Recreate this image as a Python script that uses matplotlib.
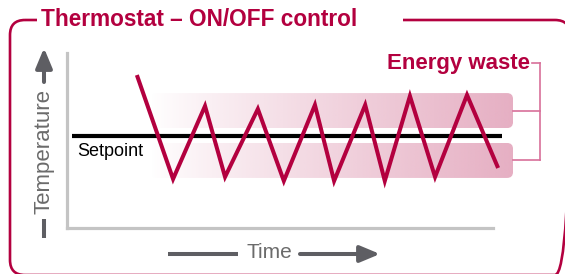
import numpy as np
import matplotlib
matplotlib.use("Agg")
import matplotlib.pyplot as plt
from matplotlib.patches import FancyBboxPatch, Rectangle
from matplotlib.colors import to_rgb

# ---------------- data ----------------
time = [16.4, 24.9, 32.4, 37.1, 44.8, 50.9, 58.2, 62.7, 70.0, 74.6, 80.5, 86.4, 93.9, 101.2]
temperature = [87.4, 28.0, 69.7, 29.2, 68.0, 26.9, 70.3, 26.9, 70.3, 26.9, 75.4, 29.2, 76.0, 34.3]
setpoint = 52.6
setpoint_span = [1.2, 102.1]
waste_bands = [[57.1, 77.1], [28.6, 48.6]]
band_span = [19.5, 104.7]
bracket_x = 111.0

title = "Thermostat – ON/OFF control"
waste_label = "Energy waste"
setpoint_label = "Setpoint"
xlabel = "Time"
ylabel = "Temperature"

CRIMSON = "#b3003f"
PINK = "#e6afc3"
BRACKET = "#d8709a"
GRAY_AX = "#c4c4c4"
GRAY_TXT = "#6b6b6b"
GRAY_ARROW = "#5e5e63"

plt.rcParams['font.family'] = ['Liberation Sans', 'DejaVu Sans']

W, H = 565, 274
fig = plt.figure(figsize=(W / 100, H / 100), dpi=100)

# background / decoration axes in pixel coordinates
bg = fig.add_axes([0, 0, 1, 1])
bg.set_xlim(0, W)
bg.set_ylim(H, 0)
bg.axis('off')

frame = FancyBboxPatch((10, 20), 560, 255, boxstyle="round,pad=0,rounding_size=15",
                       fill=False, ec=CRIMSON, lw=1.9, zorder=1)
bg.add_patch(frame)
bg.add_patch(Rectangle((37, 10), 366, 20, fc='white', ec='none', zorder=2))
bg.text(41, 20, title, color=CRIMSON, fontsize=16.3, fontweight='bold',
        ha='left', va='center', zorder=3)

# x label with arrows
bg.plot([168, 238], [254, 254], color=GRAY_ARROW, lw=2.9, solid_capstyle='butt')
bg.text(269, 253, xlabel, color=GRAY_TXT, fontsize=15, ha='center', va='center')
bg.annotate('', xy=(380, 254), xytext=(300, 254),
            arrowprops=dict(arrowstyle='-|>,head_length=0.6,head_width=0.25',
                            mutation_scale=20, lw=2.9, color=GRAY_ARROW,
                            shrinkA=0, shrinkB=0))
# y label with arrows
bg.plot([44, 44], [219, 238], color=GRAY_ARROW, lw=2.9, solid_capstyle='butt')
bg.text(44, 151, ylabel, color=GRAY_TXT, fontsize=16, ha='center', va='center',
        rotation=90)
bg.annotate('', xy=(44, 48), xytext=(44, 82),
            arrowprops=dict(arrowstyle='-|>,head_length=0.6,head_width=0.25',
                            mutation_scale=20, lw=2.9, color=GRAY_ARROW,
                            shrinkA=0, shrinkB=0))

bg.text(530, 64, waste_label, color=CRIMSON, fontsize=16, fontweight='bold',
        ha='right', va='center')

# ---------------- data axes ----------------
x_per_px = 100 / 426
y_per_px = 100 / 175
ax_w_px = 480
ax = fig.add_axes([67 / W, (H - 228) / H, ax_w_px / W, 175 / H])
ax.set_xlim(0, ax_w_px * x_per_px)
ax.set_ylim(0, 100)
ax.patch.set_alpha(0)
for s in ['top', 'right']:
    ax.spines[s].set_visible(False)
for s in ['left', 'bottom']:
    ax.spines[s].set_color(GRAY_AX)
    ax.spines[s].set_linewidth(2.3)
ax.spines['bottom'].set_bounds(0, 100)
ax.set_xticks([])
ax.set_yticks([])

pink = np.array(to_rgb(PINK))
grad = np.zeros((1, 256, 4))
grad[..., :3] = pink
grad[..., 3] = np.linspace(0, 1, 256) ** 0.9
for lo, hi in waste_bands:
    patch = FancyBboxPatch((band_span[0], lo), band_span[1] - band_span[0], hi - lo,
                           boxstyle="round,pad=0,rounding_size=%f" % (6 * x_per_px),
                           mutation_aspect=y_per_px / x_per_px,
                           fc='none', ec='none')
    ax.add_patch(patch)
    im = ax.imshow(grad, extent=[band_span[0], band_span[1], lo, hi], aspect='auto',
                   zorder=1, interpolation='bilinear')
    im.set_clip_path(patch)
    ax.plot([band_span[1], bracket_x], [(lo + hi) / 2] * 2, color=BRACKET, lw=1.2,
            clip_on=False)

ax.set_xlim(0, ax_w_px * x_per_px)
ax.set_ylim(0, 100)

# bracket vertical and top tick
top_y = (228 - 63) * y_per_px
ax.plot([bracket_x, bracket_x], [sum(waste_bands[1]) / 2, top_y], color=BRACKET, lw=1.2,
        clip_on=False)
ax.plot([bracket_x - 8 * x_per_px, bracket_x], [top_y, top_y], color=BRACKET, lw=1.2,
        clip_on=False)

ax.plot(setpoint_span, [setpoint, setpoint], color='black', lw=3.0, clip_on=False,
        solid_capstyle='butt', zorder=2)
ax.annotate(setpoint_label, xy=(setpoint_span[0], setpoint), xytext=(4, -5),
            textcoords='offset points', ha='left', va='top', fontsize=13, color='black')

ax.plot(time, temperature, color=CRIMSON, lw=2.9, clip_on=False, zorder=3,
        solid_joinstyle='miter', solid_capstyle='butt')

fig.savefig("out.png", dpi=100)
